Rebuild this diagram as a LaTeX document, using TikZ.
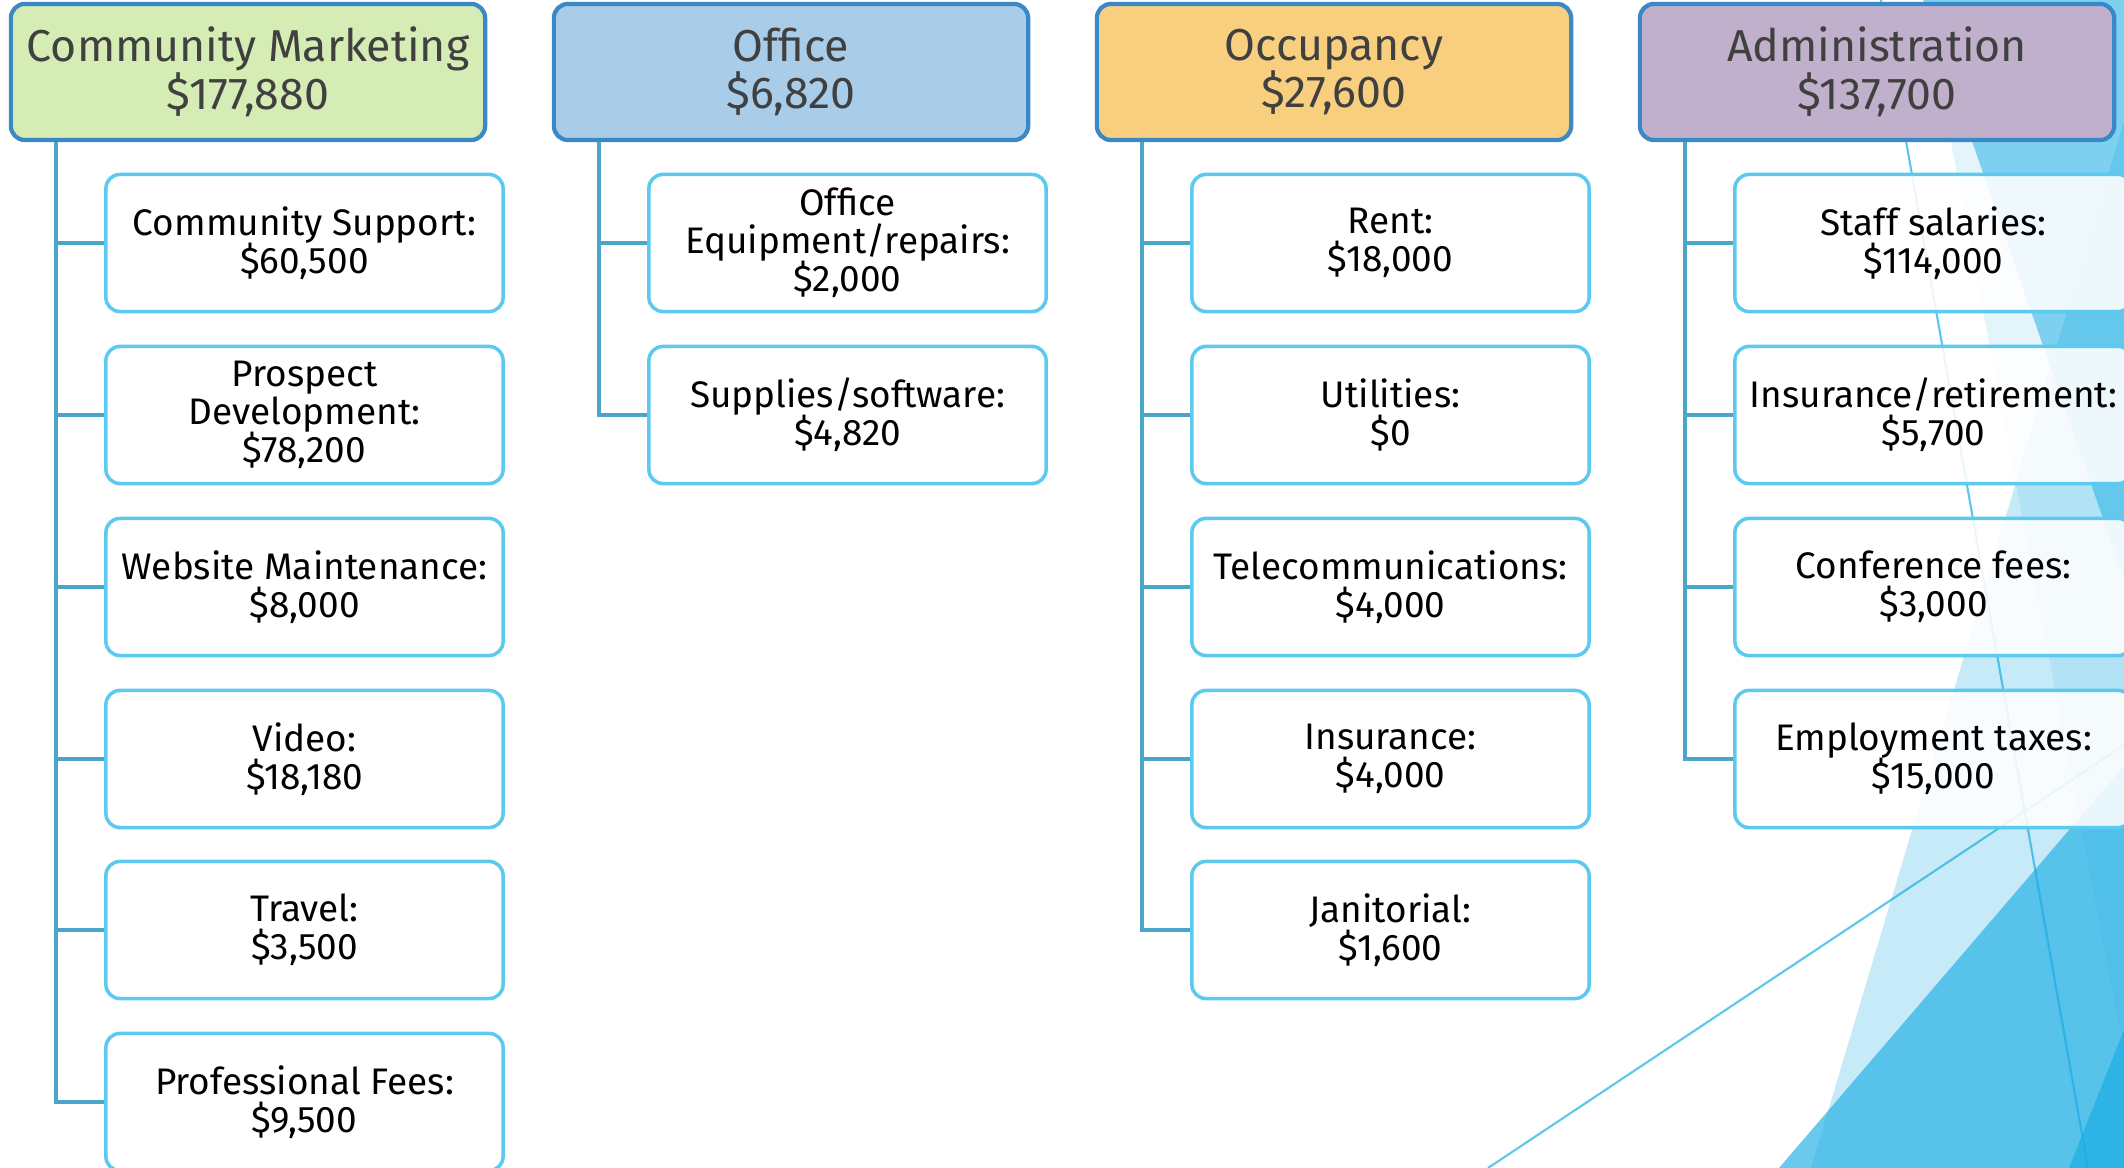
\documentclass[tikz,border=0pt]{standalone}
\usepackage{fontspec}
\setmainfont{Fira Sans}
\usepackage{xcolor}
\usepackage{tikz}
\usetikzlibrary{positioning,calc}
\definecolor{facet}{HTML}{1CADE4}
\definecolor{headline}{HTML}{3A88C6}
\definecolor{itemline}{HTML}{5CC9EE}
\definecolor{branchcol}{HTML}{4BA5C6}
\definecolor{headtext}{HTML}{404040}
\definecolor{greenfill}{HTML}{D5ECB4}
\definecolor{bluefill}{HTML}{A9CCE8}
\definecolor{orangefill}{HTML}{F8CF7F}
\definecolor{purplefill}{HTML}{C0B0CC}
\newcommand{\tightskip}{\setlength{\lineskiplimit}{-10pt}}
\tikzstyle{headbox}=[rectangle, draw=headline, line width=1.2pt, rounded corners=0.14cm, minimum width=4.74cm, minimum height=1.36cm, inner sep=0pt, align=center, text=headtext, font=\fontsize{12.7}{13.5}\selectfont\tightskip]
\tikzstyle{itembox}=[rectangle, draw=itemline, line width=1pt, rounded corners=0.14cm, fill=white, fill opacity=0.88, text opacity=1, minimum width=3.97cm, minimum height=1.37cm, inner sep=0pt, align=center, font=\fontsize{10.5}{10.8}\selectfont\tightskip]
\tikzstyle{branch}=[draw=branchcol, line width=1.1pt]
\tikzstyle{facetline}=[draw=facet, opacity=0.7, line width=0.6pt]

\begin{document}
\begin{tikzpicture}[x=0.01cm, y=-0.01cm]
				\clip (0,0) rectangle (2124,1168);
				\fill[white] (0,0) rectangle (2124,1168);
				\fill[facet, opacity=0.12] (1924,0) -- (2124,1052) -- (2124,0) -- cycle;
				\fill[facet, opacity=0.51] (1923,0) -- (2124,579) -- (2124,0) -- cycle;
				\fill[facet, opacity=0.25] (1811,1168) -- (2124,121) -- (2124,1168) -- cycle;
				\fill[facet, opacity=0.65] (1779,1168) -- (2124,766) -- (2124,1168) -- cycle;
				\fill[facet, opacity=0.7] (2069,1168) -- (2124,1030) -- (2124,1168) -- cycle;
				\draw[facetline] (1881,0) -- (2088,1168);
				\draw[facetline] (1488,1168) -- (2124,745);
				\node[headbox, fill=greenfill] (cm) at (248, 72) {Community Marketing\\\$177,880};
				\node[itembox] (cm1) at (304.5, 243) {Community Support:\\\$60,500};
				\node[itembox] (cm2) at (304.5, 415) {Prospect\\Development:\\\$78,200};
				\node[itembox] (cm3) at (304.5, 587) {Website Maintenance:\\\$8,000};
				\node[itembox] (cm4) at (304.5, 759) {Video:\\\$18,180};
				\node[itembox] (cm5) at (304.5, 930) {Travel:\\\$3,500};
				\node[itembox] (cm6) at (304.5, 1102) {Professional Fees:\\\$9,500};
				\node[headbox, fill=bluefill] (of) at (791, 72) {Office\\\$6,820};
				\node[itembox] (of1) at (847.5, 243) {Office\\Equipment/repairs:\\\$2,000};
				\node[itembox] (of2) at (847.5, 415) {Supplies/software:\\\$4,820};
				\node[headbox, fill=orangefill] (oc) at (1334, 72) {Occupancy\\\$27,600};
				\node[itembox] (oc1) at (1390.5, 243) {Rent:\\\$18,000};
				\node[itembox] (oc2) at (1390.5, 415) {Utilities:\\\$0};
				\node[itembox] (oc3) at (1390.5, 587) {Telecommunications:\\\$4,000};
				\node[itembox] (oc4) at (1390.5, 759) {Insurance:\\\$4,000};
				\node[itembox] (oc5) at (1390.5, 930) {Janitorial:\\\$1,600};
				\node[headbox, fill=purplefill] (ad) at (1877, 72) {Administration\\\$137,700};
				\node[itembox] (ad1) at (1933.5, 243) {Staff salaries:\\\$114,000};
				\node[itembox] (ad2) at (1933.5, 415) {Insurance/retirement:\\\$5,700};
				\node[itembox] (ad3) at (1933.5, 587) {Conference fees:\\\$3,000};
				\node[itembox] (ad4) at (1933.5, 759) {Employment taxes:\\\$15,000};
				\draw[branch] ([xshift=0.47cm]cm.south west) |- (cm1.west);
				\draw[branch] ([xshift=0.47cm]cm.south west) |- (cm2.west);
				\draw[branch] ([xshift=0.47cm]cm.south west) |- (cm3.west);
				\draw[branch] ([xshift=0.47cm]cm.south west) |- (cm4.west);
				\draw[branch] ([xshift=0.47cm]cm.south west) |- (cm5.west);
				\draw[branch] ([xshift=0.47cm]cm.south west) |- (cm6.west);
				\draw[branch] ([xshift=0.47cm]of.south west) |- (of1.west);
				\draw[branch] ([xshift=0.47cm]of.south west) |- (of2.west);
				\draw[branch] ([xshift=0.47cm]oc.south west) |- (oc1.west);
				\draw[branch] ([xshift=0.47cm]oc.south west) |- (oc2.west);
				\draw[branch] ([xshift=0.47cm]oc.south west) |- (oc3.west);
				\draw[branch] ([xshift=0.47cm]oc.south west) |- (oc4.west);
				\draw[branch] ([xshift=0.47cm]oc.south west) |- (oc5.west);
				\draw[branch] ([xshift=0.47cm]ad.south west) |- (ad1.west);
				\draw[branch] ([xshift=0.47cm]ad.south west) |- (ad2.west);
				\draw[branch] ([xshift=0.47cm]ad.south west) |- (ad3.west);
				\draw[branch] ([xshift=0.47cm]ad.south west) |- (ad4.west);
			\end{tikzpicture}
\end{document}
